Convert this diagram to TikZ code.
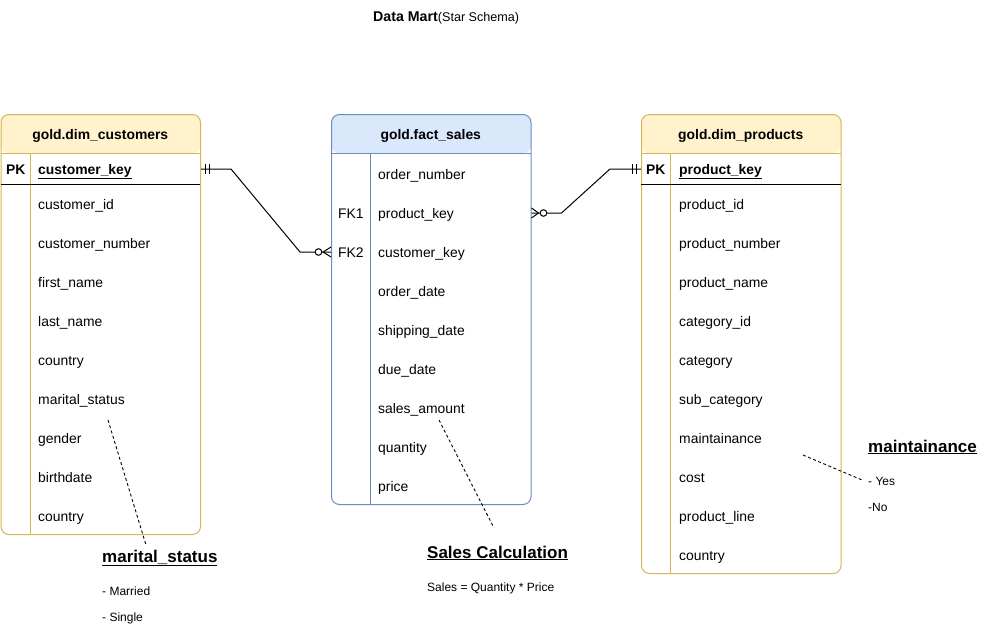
\documentclass[tikz,border=0pt]{standalone}
\usepackage{fontspec}
\setmainfont{Liberation Sans}
\usetikzlibrary{calc}
\definecolor{yfill}{HTML}{FFF2CC}
\definecolor{ystroke}{HTML}{D6B656}
\definecolor{bfill}{HTML}{DAE8FC}
\definecolor{bstroke}{HTML}{6C8EBF}
\begin{document}
\begin{tikzpicture}[x=1pt,y=-1pt,
  tbl/.style={draw, line width=1pt, rounded corners=8pt, fill=white, anchor=north west, inner sep=0pt, minimum width=199.5pt},
  ytbl/.style={tbl, draw=ystroke, path picture={\fill[yfill] (path picture bounding box.north west) rectangle ($(path picture bounding box.north east)+(0,39)$);}},
  btbl/.style={tbl, draw=bstroke, path picture={\fill[bfill] (path picture bounding box.north west) rectangle ($(path picture bounding box.north east)+(0,39)$);}},
  fld/.style={anchor=west, inner sep=0pt, text height=10pt, text depth=0pt, font=\fontsize{13.9}{16}\selectfont},
  keyfld/.style={fld, font=\bfseries\fontsize{13.9}{16}\selectfont},
  hdr/.style={inner sep=0pt, text height=10pt, text depth=0pt, font=\bfseries\fontsize{13.9}{16}\selectfont},
  conn/.style={draw=black, line width=1pt},
  notel/.style={draw=black, line width=0.9pt, dash pattern=on 3pt off 2.5pt},
  notet/.style={anchor=west, inner sep=0pt, text height=12pt, text depth=0pt, font=\bfseries\fontsize{17}{20}\selectfont},
  notes/.style={anchor=west, inner sep=0pt, text height=8.5pt, text depth=0pt, font=\fontsize{12}{14}\selectfont}
]
\useasboundingbox[fill=white] (0,0) rectangle (987,635);

% title
\node[anchor=base west, inner sep=0pt] (title) at (373,21.5) {{\bfseries\fontsize{14.2}{16}\selectfont Data Mart}{\fontsize{12.6}{14}\selectfont(Star Schema)}};

% ---------- customers ----------
\node[ytbl, minimum height=420pt] (cust) at (0.5,114) {};
\draw[ystroke, line width=1pt] (0.5,153) -- (200,153);
\draw[ystroke, line width=1pt] (30,153) -- (30,534);
\draw[black, line width=1pt] (0.5,184) -- (200,184);
\node[hdr] (custh) at (100.25,134) {gold.dim\_customers};
\node[keyfld] (cpk) at (6,169) {PK};
\node[keyfld] (ck) at (38,169) {\underline{customer\_key}};
\foreach \t [count=\i] in {customer\_id,customer\_number,first\_name,last\_name,country,marital\_status,gender,birthdate,country}
  \node[fld] (c\i) at (38,165+39*\i) {\t};

% ---------- fact ----------
\node[btbl, minimum height=390pt] (fact) at (331,114) {};
\draw[bstroke, line width=1pt] (331,153) -- (530.5,153);
\draw[bstroke, line width=1pt] (370,153) -- (370,504);
\node[hdr] (facth) at (430.75,134) {gold.fact\_sales};
\foreach \t [count=\i] in {order\_number,product\_key,customer\_key,order\_date,shipping\_date,due\_date,sales\_amount,quantity,price}
  \node[fld] (f\i) at (378,135+39*\i) {\t};
\node[fld] (fk1) at (338,213) {FK1};
\node[fld] (fk2) at (338,252) {FK2};

% ---------- products ----------
\node[ytbl, minimum height=459pt] (prod) at (641,114) {};
\draw[ystroke, line width=1pt] (641,153) -- (840.5,153);
\draw[ystroke, line width=1pt] (670,153) -- (670,573);
\draw[black, line width=1pt] (641,184) -- (840.5,184);
\node[hdr] (prodh) at (740.75,134) {gold.dim\_products};
\node[keyfld] (ppk) at (646,169) {PK};
\node[keyfld] (pk) at (679,169) {\underline{product\_key}};
\foreach \t [count=\i] in {product\_id,product\_number,product\_name,category\_id,category,sub\_category,maintainance,cost,product\_line,country}
  \node[fld] (p\i) at (679,165+39*\i) {\t};

% ---------- connectors ----------
\coordinate (e1s) at (cust.east |- ck);
\coordinate (e1e) at (fact.west |- f3);
\draw[conn] (e1s) -- ++(30,0) -- ($(e1e)+(-31,0)$) -- (e1e);
\draw[conn] ($(e1s)+(4.5,-5)$) -- ($(e1s)+(4.5,5)$);
\draw[conn] ($(e1s)+(8,-5)$) -- ($(e1s)+(8,5)$);
\draw[conn] ($(e1e)+(-8,0)$) -- ($(e1e)+(0,-5)$);
\draw[conn] ($(e1e)+(-8,0)$) -- ($(e1e)+(0,5)$);
\draw[conn, fill=white] ($(e1e)+(-12.5,0)$) circle (3.3pt);

\coordinate (e2s) at (fact.east |- f2);
\coordinate (e2e) at (prod.west |- pk);
\draw[conn] (e2s) -- ++(30,0) -- ($(e2e)+(-31,0)$) -- (e2e);
\draw[conn] ($(e2e)+(-5,-5)$) -- ($(e2e)+(-5,5)$);
\draw[conn] ($(e2e)+(-8.5,-5)$) -- ($(e2e)+(-8.5,5)$);
\draw[conn] ($(e2s)+(7,0)$) -- ($(e2s)+(0,-5)$);
\draw[conn] ($(e2s)+(7,0)$) -- ($(e2s)+(0,5)$);
\draw[conn, fill=white] ($(e2s)+(12,0)$) circle (3.3pt);

% ---------- notes ----------
\node[notet] (n1) at (102,556) {\underline{marital\_status}};
\node[notes] (n1a) at (102,591) {- Married};
\node[notes] (n1b) at (102,617) {- Single};
\coordinate (m1a) at (108,420);
\coordinate (m1b) at (146,545);
\draw[notel] (m1a) -- (m1b);

\node[notet] (n2) at (427,552) {\underline{Sales Calculation}};
\node[notes] (n2a) at (427,587) {Sales = Quantity * Price};
\coordinate (m2a) at (439,420);
\coordinate (m2b) at (494,528);
\draw[notel] (m2a) -- (m2b);

\node[notet] (n3) at (868,446) {\underline{maintainance}};
\node[notes] (n3a) at (868,481) {- Yes};
\node[notes] (n3b) at (868,507) {-No};
\coordinate (m3a) at (803,455);
\coordinate (m3b) at (862,480);
\draw[notel] (m3a) -- (m3b);
\end{tikzpicture}
\end{document}
